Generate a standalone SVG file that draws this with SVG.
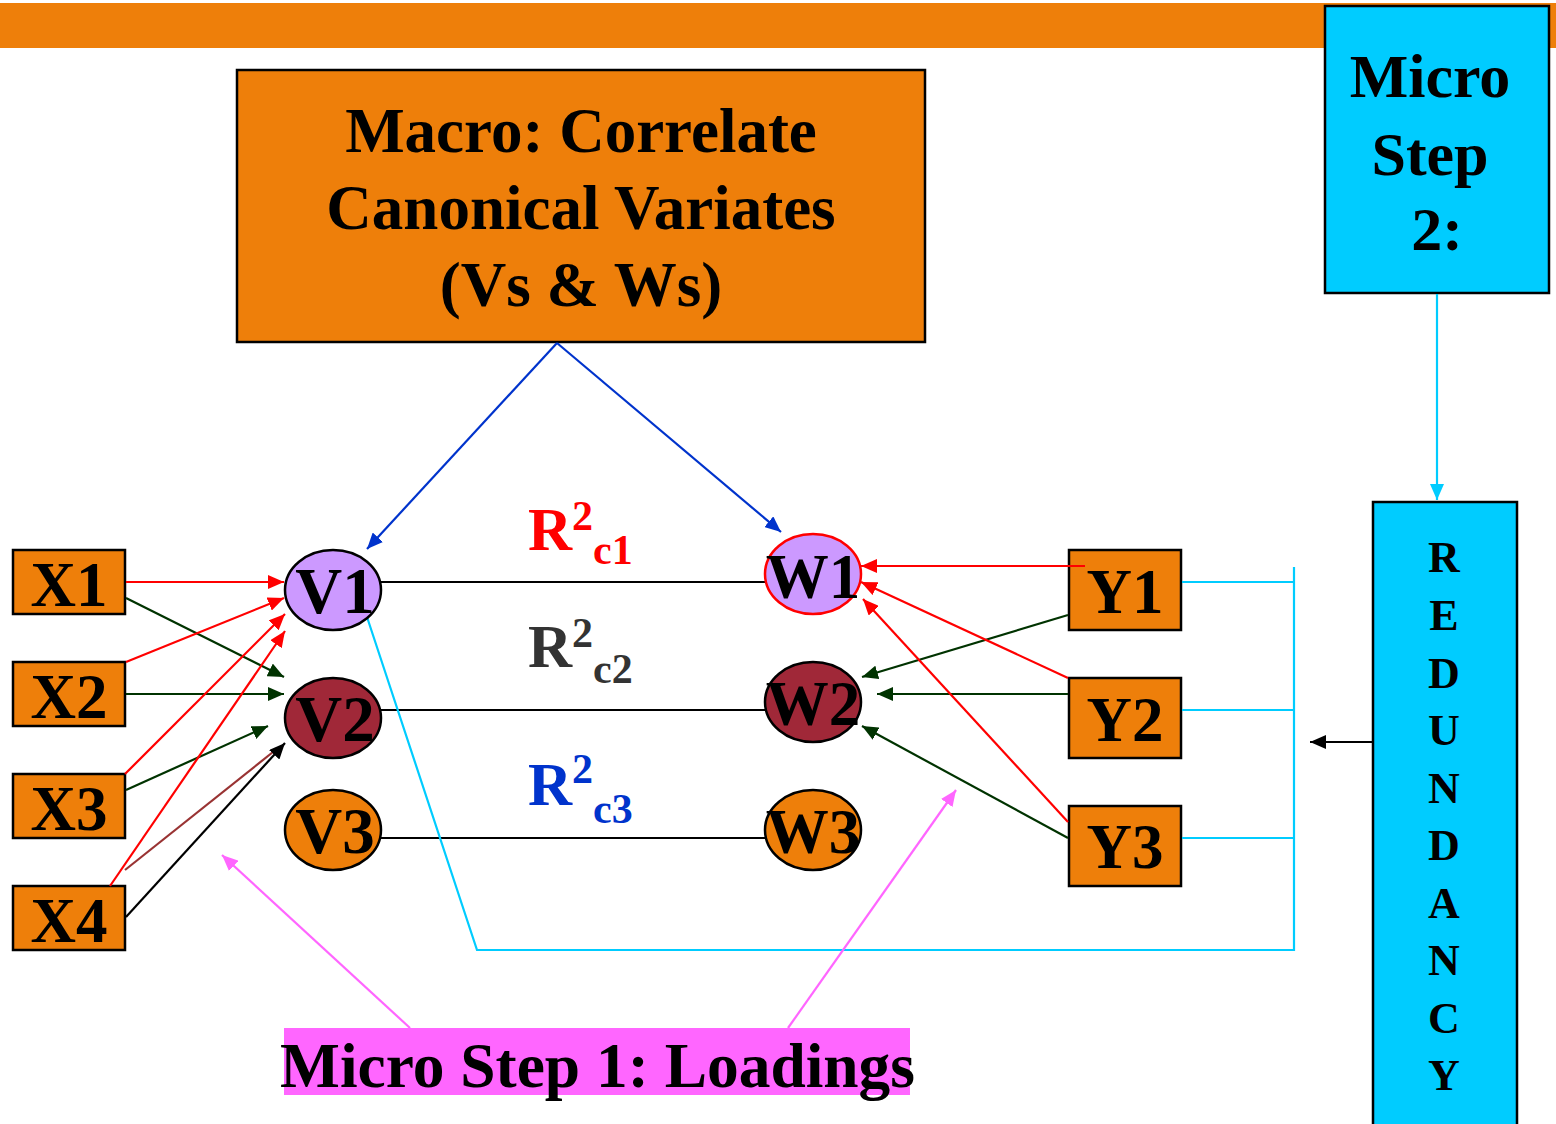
<svg xmlns="http://www.w3.org/2000/svg" width="1556" height="1124" viewBox="0 0 1556 1124">
<defs>
<style>
.t{font-family:"Liberation Serif","Times New Roman",serif;font-weight:bold;fill:#000}
.box{fill:#EE7F0A;stroke:#000;stroke-width:2.5}
.cy{fill:#00CCFF;stroke:#000;stroke-width:2.5}
.ln{fill:none;stroke-width:2.2}
</style>
<marker id="aR" viewBox="0 0 16 14" refX="16" refY="7" markerWidth="16" markerHeight="14" markerUnits="userSpaceOnUse" orient="auto"><path d="M0,0L16,7L0,14z" fill="#FF0000"/></marker>
<marker id="aG" viewBox="0 0 16 14" refX="16" refY="7" markerWidth="16" markerHeight="14" markerUnits="userSpaceOnUse" orient="auto"><path d="M0,0L16,7L0,14z" fill="#003300"/></marker>
<marker id="aB" viewBox="0 0 16 14" refX="16" refY="7" markerWidth="16" markerHeight="14" markerUnits="userSpaceOnUse" orient="auto"><path d="M0,0L16,7L0,14z" fill="#0033CC"/></marker>
<marker id="aK" viewBox="0 0 16 14" refX="16" refY="7" markerWidth="16" markerHeight="14" markerUnits="userSpaceOnUse" orient="auto"><path d="M0,0L16,7L0,14z" fill="#000"/></marker>
<marker id="aC" viewBox="0 0 16 14" refX="16" refY="7" markerWidth="16" markerHeight="14" markerUnits="userSpaceOnUse" orient="auto"><path d="M0,0L16,7L0,14z" fill="#00CCFF"/></marker>
<marker id="aM" viewBox="0 0 16 14" refX="16" refY="7" markerWidth="16" markerHeight="14" markerUnits="userSpaceOnUse" orient="auto"><path d="M0,0L16,7L0,14z" fill="#FF66FF"/></marker>
</defs>
<rect width="1556" height="1124" fill="#fff"/>
<rect x="0" y="3" width="1556" height="45" fill="#EE7F0A"/>

<g id="macro">
<rect class="box" x="237" y="70" width="688" height="272"/>
<text class="t" x="581" y="152" font-size="63" text-anchor="middle">Macro: Correlate</text>
<text class="t" x="581" y="229" font-size="63" text-anchor="middle">Canonical Variates</text>
<text class="t" x="581" y="306" font-size="63" text-anchor="middle">(Vs &amp; Ws)</text>
</g>

<g id="micro2">
<rect class="cy" x="1325" y="6" width="224" height="287"/>
<text class="t" x="1430" y="97" font-size="62" text-anchor="middle">Micro</text>
<text class="t" x="1430" y="175" font-size="62" text-anchor="middle">Step</text>
<text class="t" x="1437" y="250" font-size="62" text-anchor="middle">2:</text>
</g>

<g id="redundancy">
<rect class="cy" x="1373" y="502" width="144" height="640"/>
<g class="t" font-size="44" text-anchor="middle">
<text x="1444" y="572">R</text>
<text x="1444" y="630">E</text>
<text x="1444" y="688">D</text>
<text x="1444" y="745">U</text>
<text x="1444" y="803">N</text>
<text x="1444" y="860">D</text>
<text x="1444" y="918">A</text>
<text x="1444" y="975">N</text>
<text x="1444" y="1033">C</text>
<text x="1444" y="1090">Y</text>
</g>
</g>

<g id="X1"><rect class="box" x="13" y="550" width="112" height="64"/><text class="t" x="69" y="606" font-size="63" text-anchor="middle">X1</text></g>
<g id="X2"><rect class="box" x="13" y="662" width="112" height="64"/><text class="t" x="69" y="718" font-size="63" text-anchor="middle">X2</text></g>
<g id="X3"><rect class="box" x="13" y="774" width="112" height="64"/><text class="t" x="69" y="830" font-size="63" text-anchor="middle">X3</text></g>
<g id="X4"><rect class="box" x="13" y="886" width="112" height="64"/><text class="t" x="69" y="942" font-size="63" text-anchor="middle">X4</text></g>

<g id="Y1"><rect class="box" x="1069" y="550" width="112" height="80"/><text class="t" x="1125" y="613" font-size="63" text-anchor="middle">Y1</text></g>
<g id="Y2"><rect class="box" x="1069" y="678" width="112" height="80"/><text class="t" x="1125" y="741" font-size="63" text-anchor="middle">Y2</text></g>
<g id="Y3"><rect class="box" x="1069" y="806" width="112" height="80"/><text class="t" x="1125" y="868" font-size="63" text-anchor="middle">Y3</text></g>

<g id="connectors">
<line class="ln" x1="380" y1="582" x2="766" y2="582" stroke="#000" stroke-width="2.5"/>
<line class="ln" x1="380" y1="710" x2="766" y2="710" stroke="#000" stroke-width="2.5"/>
<line class="ln" x1="380" y1="838" x2="766" y2="838" stroke="#000" stroke-width="2.5"/>
<line class="ln" x1="557" y1="343" x2="367" y2="549" stroke="#0033CC" marker-end="url(#aB)"/>
<line class="ln" x1="557" y1="343" x2="781" y2="532" stroke="#0033CC" marker-end="url(#aB)"/>
<line class="ln" x1="1437" y1="294" x2="1437" y2="500" stroke="#00CCFF" marker-end="url(#aC)"/>
<line class="ln" x1="1372" y1="742" x2="1310" y2="742" stroke="#000" marker-end="url(#aK)"/>
<polyline class="ln" points="367,617 477,950 1294,950" stroke="#00CCFF" stroke-width="2.5"/>
<line class="ln" x1="1294" y1="567" x2="1294" y2="951" stroke="#00CCFF" stroke-width="2.5"/>
<line class="ln" x1="1182" y1="582" x2="1294" y2="582" stroke="#00CCFF" stroke-width="2.5"/>
<line class="ln" x1="1182" y1="710" x2="1294" y2="710" stroke="#00CCFF" stroke-width="2.5"/>
<line class="ln" x1="1182" y1="838" x2="1294" y2="838" stroke="#00CCFF" stroke-width="2.5"/>
<line class="ln" x1="126" y1="582" x2="284" y2="582" stroke="#FF0000" marker-end="url(#aR)"/>
<line class="ln" x1="126" y1="598" x2="284" y2="677" stroke="#003300" marker-end="url(#aG)"/>
<line class="ln" x1="126" y1="662" x2="284" y2="598" stroke="#FF0000" marker-end="url(#aR)"/>
<line class="ln" x1="126" y1="694" x2="284" y2="694" stroke="#003300" marker-end="url(#aG)"/>
<line class="ln" x1="125" y1="774" x2="285" y2="614" stroke="#FF0000" marker-end="url(#aR)"/>
<line class="ln" x1="126" y1="790" x2="268" y2="726" stroke="#003300" marker-end="url(#aG)"/>
<line class="ln" x1="110" y1="886" x2="285" y2="631" stroke="#FF0000" marker-end="url(#aR)"/>
<line class="ln" x1="125" y1="870" x2="278" y2="748" stroke="#993333" stroke-width="2.5"/>
<line class="ln" x1="126" y1="917" x2="285" y2="743" stroke="#000" marker-end="url(#aK)"/>
<line class="ln" x1="1085" y1="566" x2="861" y2="566" stroke="#FF0000" marker-end="url(#aR)"/>
<line class="ln" x1="1068" y1="615" x2="862" y2="677" stroke="#003300" marker-end="url(#aG)"/>
<line class="ln" x1="1068" y1="678" x2="861" y2="582" stroke="#FF0000" marker-end="url(#aR)"/>
<line class="ln" x1="1068" y1="694" x2="877" y2="694" stroke="#003300" marker-end="url(#aG)"/>
<line class="ln" x1="1068" y1="822" x2="863" y2="599" stroke="#FF0000" marker-end="url(#aR)"/>
<line class="ln" x1="1068" y1="838" x2="862" y2="726" stroke="#003300" marker-end="url(#aG)"/>
<line class="ln" x1="410" y1="1028" x2="222" y2="855" stroke="#FF66FF" marker-end="url(#aM)"/>
<line class="ln" x1="788" y1="1028" x2="956" y2="790" stroke="#FF66FF" marker-end="url(#aM)"/>
</g>

<g id="V1"><ellipse cx="333" cy="590" rx="48" ry="40" fill="#CC99FF" stroke="#000" stroke-width="2.5"/><text class="t" x="335" y="613" font-size="65" text-anchor="middle">V1</text></g>
<g id="V2"><ellipse cx="333" cy="718" rx="48" ry="40" fill="#A02838" stroke="#000" stroke-width="2.5"/><text class="t" x="335" y="741" font-size="65" text-anchor="middle">V2</text></g>
<g id="V3"><ellipse cx="333" cy="830" rx="48" ry="40" fill="#EE7F0A" stroke="#000" stroke-width="2.5"/><text class="t" x="335" y="853" font-size="65" text-anchor="middle">V3</text></g>

<g id="W1"><ellipse cx="813" cy="574" rx="48" ry="40" fill="#CC99FF" stroke="#FF0000" stroke-width="2.5"/><text class="t" x="813" y="598" font-size="63" text-anchor="middle">W1</text></g>
<g id="W2"><ellipse cx="813" cy="702" rx="48" ry="40" fill="#A02838" stroke="#000" stroke-width="2.5"/><text class="t" x="813" y="725" font-size="63" text-anchor="middle">W2</text></g>
<g id="W3"><ellipse cx="813" cy="830" rx="48" ry="40" fill="#EE7F0A" stroke="#000" stroke-width="2.5"/><text class="t" x="813" y="853" font-size="63" text-anchor="middle">W3</text></g>

<g id="Rc1">
<text class="t" x="528" y="550" font-size="61" style="fill:#FF0000">R<tspan font-size="42" dy="-20">2</tspan><tspan font-size="42" dy="34">c1</tspan></text>
</g>
<g id="Rc2">
<text class="t" x="528" y="667" font-size="61" style="fill:#333333">R<tspan font-size="42" dy="-20">2</tspan><tspan font-size="42" dy="36">c2</tspan></text>
</g>
<g id="Rc3">
<text class="t" x="528" y="805" font-size="61" style="fill:#0033CC">R<tspan font-size="42" dy="-22">2</tspan><tspan font-size="42" dy="40">c3</tspan></text>
</g>

<g id="micro1">
<rect x="284" y="1028" width="626" height="67" fill="#FF66FF"/>
<text class="t" x="280" y="1087" font-size="64" textLength="635" lengthAdjust="spacingAndGlyphs">Micro Step 1: Loadings</text>
</g>
</svg>
